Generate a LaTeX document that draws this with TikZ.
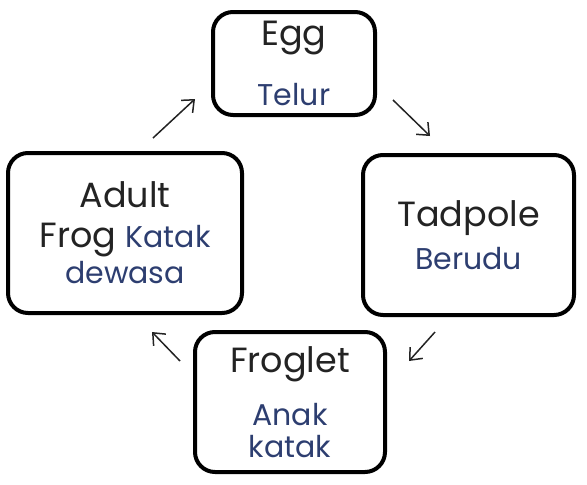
\documentclass[tikz,border=0pt]{standalone}
\usepackage{fontspec}
\setmainfont{Poppins}
\usetikzlibrary{arrows.meta}

\definecolor{inkgray}{RGB}{35,35,35}
\definecolor{malayblue}{RGB}{45,62,112}
\newcommand{\malay}[1]{{\fontsize{30}{36}\selectfont\color{malayblue}#1}}

\begin{document}
\begin{tikzpicture}[x=1pt,y=-1pt,>={Straight Barb[length=10pt,width=17pt]},
  stage/.style={draw=black,line width=4pt,rounded corners=20pt,align=center,
    inner sep=0pt,text=inkgray,font=\fontsize{35}{40}\selectfont},
  cycle/.style={->,line width=1.5pt,color=inkgray}]

\useasboundingbox (0,0) rectangle (587,485);

\node[stage,minimum width=162pt,minimum height=103pt] (egg) at (294,63.5) {Egg\\[20pt]\malay{Telur}};
\node[stage,minimum width=211pt,minimum height=160pt] (tadpole) at (468.5,235) {Tadpole\\[3pt]\malay{Berudu}};
\node[stage,minimum width=190pt,minimum height=140pt] (froglet) at (290,402) {Froglet\\[13pt]\malay{Anak}\\[-8pt]\malay{katak}};
\node[stage,minimum width=234pt,minimum height=160pt] (adult) at (125,233) {Adult\\[0pt]Frog \malay{Katak}\\[-4pt]\malay{dewasa}};

\draw[cycle] ([xshift=16pt,yshift=17pt]egg.south east) -- ([xshift=69pt,yshift=17pt]tadpole.north west);
\draw[cycle] ([xshift=74pt,yshift=-15pt]tadpole.south west) -- ([xshift=22pt,yshift=-31pt]froglet.north east);
\draw[cycle] ([xshift=-13pt,yshift=-31pt]froglet.north west) -- ([xshift=27pt,yshift=-17pt]adult.south);
\draw[cycle] ([xshift=28pt,yshift=13pt]adult.north) -- ([xshift=-16pt,yshift=18pt]egg.south west);

\end{tikzpicture}
\end{document}
